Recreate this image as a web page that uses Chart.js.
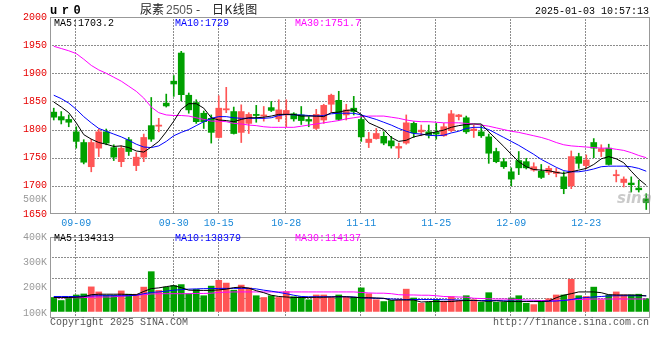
<!DOCTYPE html>
<html>
<head>
<meta charset="utf-8">
<style>
  body { margin: 0; background: #fff; }
  #wrap { position: relative; width: 660px; height: 360px; overflow: hidden; font-family: "Liberation Mono", monospace; }
  .t { position: absolute; white-space: pre; font-size: 10px; line-height: 12px; }
  .cjk { font-family: "Noto Sans CJK SC"; font-size: 12px; line-height: 14px; color: #222; top: 2px; }
  canvas { position: absolute; left: 0; }
</style>
</head>
<body>
<div id="wrap">
  <canvas id="price" width="660" height="228" style="top:0"></canvas>
  <canvas id="volume" width="660" height="132" style="top:228px"></canvas>

  <!-- header -->
  <div class="t" style="left:50px;top:4px;font-size:12px;line-height:14px;font-weight:bold;letter-spacing:4.5px">ur0</div>
  <div class="t cjk" style="left:140px">尿素</div>
  <div class="t" style="left:166px;top:3px;font-family:'Liberation Sans Narrow','Liberation Sans';font-size:12px;line-height:14px;color:#555">2505</div>
  <div class="t cjk" style="left:196px">-</div>
  <div class="t cjk" style="left:212px;letter-spacing:0.5px">日K线图</div>
  <div class="t" style="right:11px;top:6px;color:#000">2025-01-03 10:57:13</div>

  <!-- price legend -->
  <div class="t" style="left:54px;top:18px;color:#000">MA5:1703.2</div>
  <div class="t" style="left:175px;top:18px;color:#0000ff">MA10:1729</div>
  <div class="t" style="left:295px;top:18px;color:#ff00ff">MA30:1751.7</div>
  <div class="t" style="right:613px;top:194px;color:#999">500K</div>
  <div class="t" style="left:617px;top:190px;font-family:'DejaVu Sans';font-size:15px;line-height:16px;font-weight:bold;font-style:italic;color:rgba(150,150,150,0.5)">sina</div>

  <!-- volume legend -->
  <div class="t" style="left:54px;top:233px;color:#000">MA5:134313</div>
  <div class="t" style="left:175px;top:233px;color:#0000ff">MA10:138379</div>
  <div class="t" style="left:295px;top:233px;color:#ff00ff">MA30:114137</div>

  <!-- footer -->
  <div class="t" style="left:50px;top:317px;color:#555">Copyright 2025 SINA.COM</div>
  <div class="t" style="right:11px;top:317px;color:#555">http://finance.sina.com.cn</div>
</div>

<script src="https://cdn.jsdelivr.net/npm/chart.js@4.4.1/dist/chart.umd.min.js"></script>
<script>
// trading days
var dates = ['09-04','09-05','09-06','09-09','09-10','09-11','09-12','09-13','09-18','09-19',
  '09-20','09-23','09-24','09-25','09-26','09-27','09-30','10-08','10-09','10-10',
  '10-11','10-14','10-15','10-16','10-17','10-18','10-21','10-22','10-23','10-24',
  '10-25','10-28','10-29','10-30','10-31','11-01','11-04','11-05','11-06','11-07',
  '11-08','11-11','11-12','11-13','11-14','11-15','11-18','11-19','11-20','11-21',
  '11-22','11-25','11-26','11-27','11-28','11-29','12-02','12-03','12-04','12-05',
  '12-06','12-09','12-10','12-11','12-12','12-13','12-16','12-17','12-18','12-19',
  '12-20','12-23','12-24','12-25','12-26','12-27','12-30','12-31','01-02','01-03'];
var shownDates = ['09-09','09-30','10-15','10-28','11-11','11-25','12-09','12-23'];

var opens = [1831,1823,1818,1796,1777,1734,1767,1796,1768,1743, 1782,1736,1751,1807,1806,1847,1886,1936,1861,1848,
  1829,1820,1786,1835,1832,1795,1811,1827,1824,1839, 1819,1826,1828,1826,1818,1802,1817,1845,1852,1826,
  1838,1818,1777,1784,1788,1780,1767,1776,1811,1796, 1796,1795,1789,1798,1823,1821,1798,1796,1787,1761,
  1743,1725,1745,1743,1728,1726,1724,1722,1716,1700, 1752,1736,1777,1761,1767,1718,1706,1705,1696,1677];
var highs = [1838,1832,1826,1805,1782,1783,1801,1801,1773,1771, 1786,1759,1792,1857,1820,1863,1896,1939,1865,1853,
  1833,1826,1860,1875,1840,1844,1830,1843,1841,1850, 1853,1853,1830,1841,1823,1836,1845,1863,1868,1845,
  1859,1826,1795,1802,1796,1788,1776,1826,1814,1808, 1808,1811,1811,1834,1827,1824,1808,1808,1792,1767,
  1749,1732,1761,1749,1741,1738,1735,1731,1725,1762, 1758,1755,1784,1773,1774,1728,1716,1716,1710,1686];
var lows = [1817,1810,1805,1767,1739,1725,1752,1773,1745,1734, 1754,1727,1743,1779,1796,1840,1859,1851,1829,1811,
  1802,1776,1785,1830,1792,1777,1793,1813,1815,1832, 1814,1805,1815,1809,1805,1800,1811,1831,1816,1817,
  1826,1779,1768,1783,1773,1767,1750,1774,1786,1789, 1785,1783,1788,1796,1817,1793,1786,1786,1740,1741,
  1731,1700,1720,1730,1726,1713,1720,1716,1686,1695, 1731,1731,1750,1752,1737,1707,1698,1689,1689,1658];
var closes = [1822,1817,1813,1779,1742,1777,1796,1776,1751,1767, 1761,1751,1786,1783,1808,1842,1881,1862,1835,1814,
  1814,1795,1838,1837,1793,1832,1827,1825,1826,1834, 1835,1834,1819,1816,1815,1827,1843,1861,1818,1835,
  1832,1787,1783,1793,1776,1771,1770,1812,1794,1799, 1790,1792,1805,1828,1826,1796,1801,1789,1758,1743,
  1734,1712,1732,1732,1734,1715,1731,1725,1695,1752, 1740,1746,1767,1766,1738,1720,1712,1702,1693,1670];

// moving averages as drawn
var ma5 = [1849,1840,1830,1812,1791,1783,1777,1774,1770,1771, 1768,1762,1760,1769,1779,1796,1815,1836,1846,1846,
  1838,1821,1817,1816,1814,1818,1821,1821,1822,1824, 1827,1827,1827,1824,1824,1824,1823,1830,1831,1834,
  1835,1827,1812,1806,1800,1786,1779,1781,1787,1790, 1793,1796,1799,1804,1807,1809,1810,1810,1796,1783,
  1770,1756,1743,1734,1729,1728,1727,1724,1722,1725, 1728,1731,1738,1748,1752,1748,1741,1726,1712,1701];
var ma10 = [1861,1855,1847,1836,1823,1812,1802,1797,1792,1787, 1781,1774,1769,1768,1771,1779,1789,1795,1800,1807,
  1814,1820,1823,1823,1821,1820,1820,1820,1820,1821, 1825,1827,1826,1826,1825,1824,1825,1828,1829,1829,
  1829,1826,1822,1818,1813,1808,1802,1797,1793,1792, 1790,1789,1790,1794,1797,1802,1804,1804,1800,1793,
  1786,1779,1772,1764,1756,1747,1740,1733,1727,1725, 1725,1727,1730,1734,1735,1735,1735,1734,1731,1726];
var ma30 = [1948,1944,1940,1935,1925,1914,1906,1900,1893,1886, 1877,1868,1856,1840,1830,1826,1825,1825,1824,1821,
  1818,1815,1815,1814,1811,1810,1808,1807,1805,1804, 1804,1804,1804,1806,1808,1810,1812,1814,1816,1819,
  1821,1823,1824,1824,1824,1822,1820,1817,1815,1814, 1814,1813,1812,1812,1812,1811,1810,1808,1806,1803,
  1800,1797,1795,1792,1789,1786,1782,1777,1773,1771, 1770,1769,1768,1767,1767,1765,1763,1759,1754,1750];

// volume, in K
var volumeK = [161,149,161,171,175,203,183,170,170,187, 174,174,202,263,189,202,208,212,176,193,
  168,206,229,218,190,210,199,168,161,168, 161,184,164,164,152,171,171,161,171,162,
  162,199,176,152,145,149,152,194,159,138, 142,153,146,164,149,168,152,142,180,142,
  142,159,168,138,133,145,156,171,171,233, 168,165,202,152,171,183,171,171,174,156];
var volMa5 = [161,161,161,162,164,172,174,174,174,174, 173,172,185,196,199,204,208,200,190,189,
  189,189,191,194,200,202,198,188,180,170, 165,163,161,161,161,162,162,163,164,164,
  162,160,160,159,158,150,151,151,151,143, 145,145,145,145,148,149,150,147,146,148,
  146,145,145,145,145,145,147,160,170,176, 183,183,183,180,172,171,171,171,170,167];
var volMa10 = [165,165,165,165,166,167,168,168,168,168, 168,170,176,181,183,186,190,192,194,195,
  196,196,197,197,197,197,197,195,190,186, 181,176,170,165,164,164,164,164,164,164,
  163,160,159,158,157,155,154,153,153,153, 153,153,152,152,151,150,149,149,149,149,
  148,147,146,146,146,146,146,147,149,153, 158,161,163,165,167,168,168,168,168,168];
var volMa30 = [160,160,160,160,161,162,163,163,164,166, 168,170,172,175,176,176,176,176,176,177,
  177,178,181,182,183,183,183,183,183,183, 183,183,183,183,183,183,183,183,183,183,
  183,181,179,178,178,176,172,171,171,170, 170,168,165,164,163,162,158,157,156,155,
  155,154,153,151,150,149,149,149,150,152, 153,154,155,155,155,155,155,155,155,155];

var priceTicks = [1650,1700,1750,1800,1850,1900,1950,2000];
var volTicks = [100,200,300,400];

var RED = '#ff5555', GREEN = '#00a000';
var candleColors = closes.map(function (c, i) { return c >= opens[i] ? RED : GREEN; });

Chart.defaults.font.family = 'Liberation Mono';
Chart.defaults.font.size = 10;

// dotted grid at the ticks of the scales, then a grey box round the plot
function gridPlugin(vScale) {
  return {
    id: 'sinaGrid',
    beforeDatasetsDraw: function (chart) {
      var a = chart.chartArea, ctx = chart.ctx;
      var top = Math.round(a.top), bottom = Math.round(a.bottom);
      var left = Math.round(a.left), right = Math.round(a.right);
      ctx.save();
      ctx.fillStyle = '#8c8c8c';
      var xs = chart.scales.x;
      xs.ticks.forEach(function (t, i) {
        var px = Math.round(xs.getPixelForTick(i)) - 1;
        for (var y = top + 2; y < bottom - 1; y += 3) ctx.fillRect(px, y, 1, 2);
      });
      var ys = chart.scales[vScale];
      ys.ticks.forEach(function (t) {
        if (t.value === ys.min || t.value === ys.max) return;
        var py = Math.round(ys.getPixelForValue(t.value));
        for (var x = left + 2; x < right - 1; x += 3) ctx.fillRect(x, py, 2, 1);
      });
      ctx.restore();
    },
    afterDraw: function (chart) {
      var a = chart.chartArea, ctx = chart.ctx;
      ctx.save();
      ctx.strokeStyle = '#999';
      ctx.lineWidth = 1;
      ctx.strokeRect(Math.round(a.left) + 0.5, Math.round(a.top) + 0.5,
        Math.round(a.right - a.left) - 1, Math.round(a.bottom - a.top) - 1);
      ctx.restore();
    }
  };
}

// only the labelled days get a tick (and so a grid line)
function dateTicks(s) {
  s.ticks = shownDates.map(function (d) { return { value: dates.indexOf(d) }; });
}
function maLine(data, color) {
  return { type: 'line', data: data, borderColor: color, borderWidth: 1, pointRadius: 0, tension: 0, order: 0 };
}

// price chart
new Chart(document.getElementById('price'), {
  type: 'bar',
  data: {
    labels: dates,
    datasets: [
      maLine(ma5, '#000'),
      maLine(ma10, '#0000ff'),
      maLine(ma30, '#ff00ff'),
      { data: opens.map(function (o, i) { return [o, closes[i]]; }), backgroundColor: candleColors,
        barThickness: 6, minBarLength: 1, grouped: false, order: 1 },
      { data: lows.map(function (l, i) { return [l, highs[i]]; }), backgroundColor: candleColors,
        barThickness: 1, grouped: false, order: 2 }
    ]
  },
  options: {
    responsive: false,
    animation: false,
    layout: { padding: { top: 17, right: 10, left: 0, bottom: 0 } },
    plugins: { legend: { display: false }, tooltip: { enabled: false } },
    scales: {
      x: {
        offset: true,
        afterBuildTicks: dateTicks,
        grid: { display: false, drawTicks: false },
        border: { display: false },
        ticks: {
          autoSkip: false, maxRotation: 0, padding: 3, color: '#1a88d8',
          callback: function (v) { return dates[v]; }
        },
        afterFit: function (s) { s.height = 14; }
      },
      y: {
        min: 1650, max: 2000,
        afterBuildTicks: function (s) { s.ticks = priceTicks.map(function (v) { return { value: v }; }); },
        ticks: { color: '#e60000', padding: 3, callback: function (v) { return String(v); } },
        grid: { display: false, drawTicks: false },
        border: { display: false },
        afterFit: function (s) { s.width = 50; }
      }
    }
  },
  plugins: [gridPlugin('y')]
});

// volume chart
new Chart(document.getElementById('volume'), {
  type: 'bar',
  data: {
    labels: dates,
    datasets: [
      maLine(volMa5, '#000'),
      maLine(volMa10, '#0000ff'),
      maLine(volMa30, '#ff00ff'),
      { data: volumeK, base: 106, backgroundColor: candleColors, barThickness: 6, order: 1 }
    ]
  },
  options: {
    responsive: false,
    animation: false,
    layout: { padding: { top: 6, right: 10, left: 0, bottom: 42 } },
    plugins: { legend: { display: false }, tooltip: { enabled: false } },
    scales: {
      x: {
        offset: true,
        afterBuildTicks: dateTicks,
        grid: { display: false, drawTicks: false },
        border: { display: false },
        ticks: { display: false },
        afterFit: function (s) { s.height = 0; }
      },
      y: {
        min: 80, max: 400,
        afterBuildTicks: function (s) { s.ticks = volTicks.map(function (v) { return { value: v }; }); },
        ticks: { color: '#999', padding: 3, callback: function (v) { return v + 'K'; } },
        grid: { display: false, drawTicks: false },
        border: { display: false },
        afterFit: function (s) { s.width = 50; }
      },
      g: {
        position: 'left',
        min: 0, max: 4,
        ticks: { display: false, stepSize: 1 },
        grid: { display: false, drawTicks: false },
        border: { display: false },
        afterFit: function (s) { s.width = 0; }
      }
    }
  },
  plugins: [gridPlugin('g')]
});
</script>
</body>
</html>
